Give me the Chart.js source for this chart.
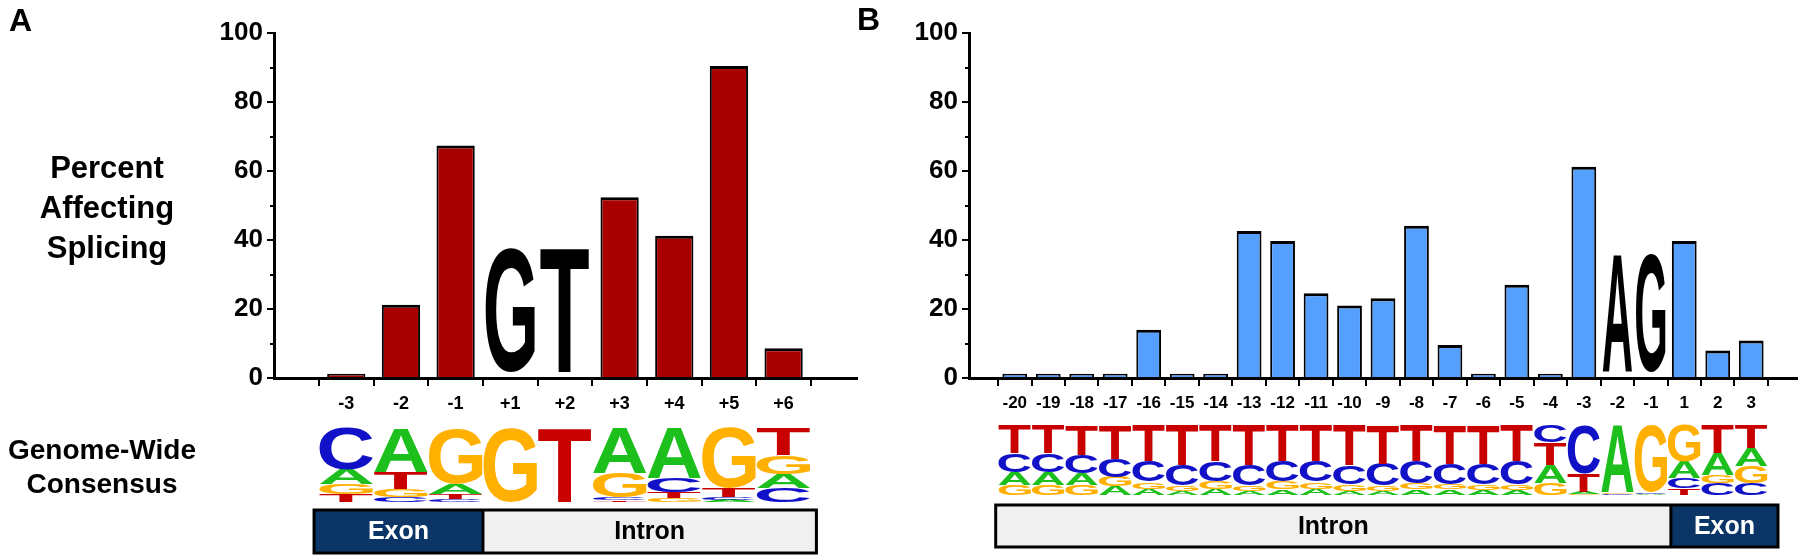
<!DOCTYPE html>
<html>
<head>
<meta charset="utf-8">
<script src="https://cdn.jsdelivr.net/npm/chart.js@4.4.1/dist/chart.umd.min.js"></script>
<style>
  body { margin: 0; width: 1800px; height: 557px; background: #fff; position: relative; overflow: hidden;
         font-family: "Liberation Sans", Arial, Helvetica, sans-serif; font-weight: bold; }
  .panel { position: absolute; top: 0; width: 900px; height: 557px; }
  .lbl { position: absolute; text-align: center; color: #000; }
</style>
</head>
<body>
<div class="panel" style="left:0"><canvas id="chartA" width="900" height="557"></canvas></div>
<div class="panel" style="left:900px"><canvas id="chartB" width="900" height="557"></canvas></div>
<div class="lbl" style="left:9px;top:4px;font-size:32px;line-height:32px">A</div>
<div class="lbl" style="left:857px;top:3px;font-size:32px;line-height:32px">B</div>
<div class="lbl" style="left:0;width:214px;top:148px;font-size:31px;line-height:40px">Percent<br>Affecting<br>Splicing</div>
<div class="lbl" style="left:0;width:204px;top:433px;font-size:28px;line-height:34px">Genome-Wide<br>Consensus</div>
<script>
const FAMILY = '"Liberation Sans", Arial, Helvetica, sans-serif';

// panel A: 5' splice site
const positionsA = ["-3", "-2", "-1", "+1", "+2", "+3", "+4", "+5", "+6"];
const percentA = [1.2, 21.2, 67.4, null, null, 52.4, 41.2, 90.4, 8.6];
const motifA = ["G", "T"];
const motifIndexA = [3, 4];

// panel B: 3' splice site
const positionsB = ["-20", "-19", "-18", "-17", "-16", "-15", "-14", "-13", "-12", "-11", "-10",
  "-9", "-8", "-7", "-6", "-5", "-4", "-3", "-2", "-1", "1", "2", "3"];
const percentB = [1.2, 1.2, 1.2, 1.2, 14.0, 1.2, 1.2, 42.6, 39.7, 24.6, 21.0,
  23.1, 44.1, 9.6, 1.2, 27.0, 1.2, 61.2, null, null, 39.7, 8.0, 10.9];
const motifB = ["A", "G"];
const motifIndexB = [18, 19];

const yMajor = [0, 20, 40, 60, 80, 100];
const yMinor = [10, 30, 50, 70, 90];

// sequence logos, each column listed bottom -> top as [base, fraction]
const logoA = [
  [["T", .10], ["G", .14], ["A", .20], ["C", .56]],
  [["C", .07], ["G", .10], ["T", .23], ["A", .60]],
  [["C", .04], ["T", .07], ["A", .14], ["G", .75]],
  [["G", 1]],
  [["T", 1]],
  [["T", .02], ["C", .04], ["G", .33], ["A", .61]],
  [["G", .05], ["T", .08], ["C", .19], ["A", .68]],
  [["A", .03], ["C", .04], ["T", .12], ["G", .81]],
  [["C", .19], ["A", .19], ["G", .25], ["T", .37]],
];
const logoB = [
  [["G", .14], ["A", .19], ["C", .27], ["T", .40]],
  [["G", .14], ["A", .19], ["C", .27], ["T", .40]],
  [["G", .14], ["A", .17], ["C", .26], ["T", .43]],
  [["A", .12], ["G", .14], ["C", .26], ["T", .48]],
  [["A", .09], ["G", .10], ["C", .29], ["T", .52]],
  [["A", .06], ["G", .08], ["C", .29], ["T", .57]],
  [["A", .09], ["G", .11], ["C", .28], ["T", .52]],
  [["A", .06], ["G", .08], ["C", .29], ["T", .57]],
  [["A", .08], ["G", .11], ["C", .29], ["T", .52]],
  [["A", .09], ["G", .10], ["C", .29], ["T", .52]],
  [["A", .06], ["G", .10], ["C", .27], ["T", .57]],
  [["A", .06], ["G", .08], ["C", .31], ["T", .55]],
  [["A", .08], ["G", .09], ["C", .31], ["T", .52]],
  [["A", .08], ["G", .08], ["C", .29], ["T", .55]],
  [["A", .07], ["G", .08], ["C", .30], ["T", .55]],
  [["A", .07], ["G", .08], ["C", .33], ["T", .52]],
  [["G", .17], ["A", .26], ["T", .32], ["C", .25]],
  [["G", .02], ["A", .03], ["T", .26], ["C", .69]],
  [["C", .02], ["G", .02], ["A", .96]],
  [["A", .02], ["C", .02], ["G", .96]],
  [["T", .10], ["C", .14], ["A", .24], ["G", .52]],
  [["C", .17], ["G", .12], ["A", .31], ["T", .40]],
  [["C", .17], ["G", .24], ["A", .26], ["T", .33]],
];

const baseColors = { A: "#1dbf1d", C: "#1111c8", G: "#ffb000", T: "#c80000" };

// draw one letter stretched to fill a box
function glyph(ctx, ch, x0, y0, w, h, color) {
  if (h < 0.6 || w < 0.6) return;
  ctx.save();
  ctx.font = "bold 100px " + FAMILY;
  ctx.textAlign = "left";
  ctx.textBaseline = "alphabetic";
  const m = ctx.measureText(ch);
  const gw = m.actualBoundingBoxLeft + m.actualBoundingBoxRight;
  const gh = m.actualBoundingBoxAscent + m.actualBoundingBoxDescent;
  ctx.translate(x0, y0);
  ctx.scale(w / gw, h / gh);
  ctx.fillStyle = color;
  ctx.fillText(ch, m.actualBoundingBoxLeft, m.actualBoundingBoxAscent);
  ctx.restore();
}

function decor(cfg) {
  return {
    id: "decor",
    afterDraw(chart) {
      const ctx = chart.ctx;
      const x = chart.scales.x;
      const y = chart.scales.y;
      const colW = x.getPixelForValue(1) - x.getPixelForValue(0);

      // minor ticks on y axis
      ctx.save();
      ctx.strokeStyle = "#000";
      ctx.lineWidth = 2;
      yMinor.forEach((v) => {
        const py = Math.round(y.getPixelForValue(v));
        ctx.beginPath();
        ctx.moveTo(y.right - 4, py);
        ctx.lineTo(y.right, py);
        ctx.stroke();
      });
      ctx.restore();

      // invariant dinucleotide drawn in place of bars
      cfg.motif.forEach((ch, k) => {
        const cx = x.getPixelForValue(cfg.motifIndex[k]);
        const w = colW * cfg.motifWidth;
        const top = y.getPixelForValue(cfg.motifTop);
        const bot = y.getPixelForValue(1.7);
        glyph(ctx, ch, cx - w / 2, top, w, bot - top, "#000");
      });

      // sequence logo
      const H = cfg.logoBottom - cfg.logoTop;
      cfg.logo.forEach((stack, i) => {
        const left = x.getPixelForValue(i) - colW / 2;
        const total = stack.reduce((s, d) => s + d[1], 0);
        let yb = cfg.logoBottom;
        stack.forEach(([ch, f]) => {
          const h = (f / total) * H;
          glyph(ctx, ch, left + 0.5, yb - h, colW - 1, h, baseColors[ch]);
          yb -= h;
        });
      });

      // exon / intron bar
      const bt = cfg.boxTop, bh = cfg.boxBottom - cfg.boxTop;
      ctx.save();
      cfg.segments.forEach((s) => {
        const l = x.getPixelForValue(s.from), r = x.getPixelForValue(s.to);
        ctx.fillStyle = s.fill;
        ctx.fillRect(l, bt, r - l, bh);
        ctx.fillStyle = s.color;
        ctx.font = "bold 25px " + FAMILY;
        ctx.textAlign = "center";
        ctx.textBaseline = "middle";
        ctx.fillText(s.label, (l + r) / 2, bt + bh / 2 + 1);
      });
      ctx.strokeStyle = "#000";
      ctx.lineWidth = 3;
      const l0 = x.getPixelForValue(cfg.segments[0].from);
      const r0 = x.getPixelForValue(cfg.segments[1].to);
      ctx.strokeRect(l0, bt, r0 - l0, bh);
      const mid = x.getPixelForValue(cfg.segments[0].to);
      ctx.beginPath();
      ctx.moveTo(mid, bt);
      ctx.lineTo(mid, bt + bh);
      ctx.stroke();
      ctx.restore();
    },
  };
}

function makeChart(id, labels, values, color, o) {
  return new Chart(document.getElementById(id), {
    type: "bar",
    data: {
      datasets: [
        {
          data: values.map((v, i) => ({ x: i, y: v })),
          backgroundColor: color,
          borderColor: "#000",
          borderWidth: { top: 3, left: 2, right: 2, bottom: 0 },
          borderSkipped: "bottom",
          categoryPercentage: 1,
          barPercentage: o.barPct,
        },
      ],
    },
    options: {
      responsive: false,
      devicePixelRatio: 1,
      animation: false,
      layout: { padding: o.padding },
      plugins: { legend: { display: false }, tooltip: { enabled: false } },
      scales: {
        x: {
          type: "linear",
          min: o.xMin,
          max: o.xMax,
          z: 1,
          afterBuildTicks: (scale) => {
            scale.ticks = labels.map((_, i) => ({ value: i }));
          },
          afterFit: (scale) => { scale.height = 40; },
          border: { display: true, color: "#000", width: 3 },
          grid: { drawOnChartArea: false, drawTicks: true, tickLength: 8, color: "#000", lineWidth: 2 },
          ticks: {
            autoSkip: false,
            maxRotation: 0,
            padding: 7,
            color: "#000",
            font: { family: FAMILY, size: o.xFont, weight: "bold" },
            callback: (v) => labels[v],
          },
        },
        y: {
          min: 0,
          max: 100,
          z: 1,
          afterBuildTicks: (scale) => {
            scale.ticks = yMajor.map((v) => ({ value: v }));
          },
          afterFit: (scale) => { scale.width = 60; },
          border: { display: true, color: "#000", width: 3 },
          grid: { drawOnChartArea: false, drawTicks: true, tickLength: 7, color: "#000", lineWidth: 2 },
          ticks: {
            padding: 4,
            color: "#000",
            font: { family: FAMILY, size: 26, weight: "bold" },
          },
        },
      },
    },
    plugins: [decor(o.decor)],
  });
}

makeChart("chartA", positionsA, percentA, "#a80000", {
  barPct: 0.7,
  xMin: -0.73,
  xMax: 8.75,
  xFont: 18,
  padding: { left: 214, right: 43, top: 33, bottom: 139 },
  decor: {
    motif: motifA, motifIndex: motifIndexA, motifWidth: 0.9, motifTop: 37.7,
    logo: logoA, logoTop: 428, logoBottom: 502,
    boxTop: 510, boxBottom: 553,
    segments: [
      { from: -0.59, to: 2.5, label: "Exon", fill: "#0b3566", color: "#fff" },
      { from: 2.5, to: 8.6, label: "Intron", fill: "#f0f0f0", color: "#000" },
    ],
  },
});

makeChart("chartB", positionsB, percentB, "#559fff", {
  barPct: 0.74,
  xMin: -0.83,
  xMax: 22.83,
  xFont: 17,
  padding: { left: 9, right: 3, top: 33, bottom: 139 },
  decor: {
    motif: motifB, motifIndex: motifIndexB, motifWidth: 0.88, motifTop: 35.9,
    logo: logoB, logoTop: 425, logoBottom: 495,
    boxTop: 505, boxBottom: 547,
    segments: [
      { from: -0.57, to: 19.6, label: "Intron", fill: "#f0f0f0", color: "#000" },
      { from: 19.6, to: 22.8, label: "Exon", fill: "#0b3566", color: "#fff" },
    ],
  },
});
</script>
</body>
</html>
